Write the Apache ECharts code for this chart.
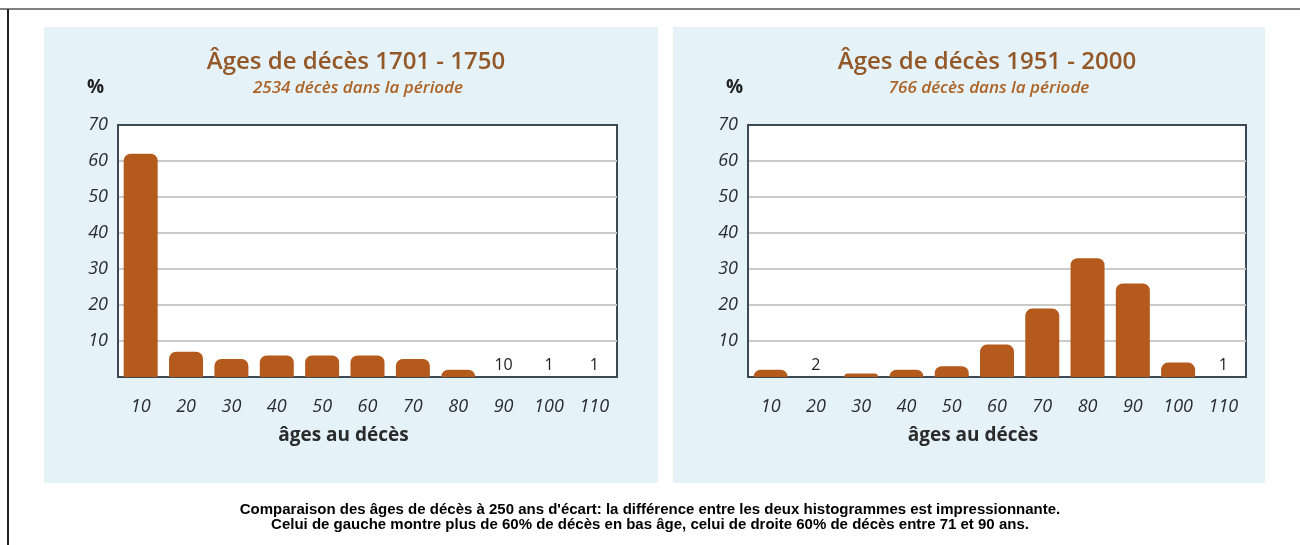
<!DOCTYPE html>
<html>
<head>
<meta charset="utf-8">
<script src="https://cdn.jsdelivr.net/npm/echarts@6/dist/echarts.min.js"></script>
<style>
  html, body { margin: 0; padding: 0; background: #fff; }
  #chart { width: 1300px; height: 545px; }
</style>
</head>
<body>
<div id="chart"></div>
<script>
// tranches d'âge (axe x)
const ageCategories = ['10', '20', '30', '40', '50', '60', '70', '80', '90', '100', '110']

// % de décès par tranche, 1701 - 1750
const pctLeft = [62, 7, 5, 6, 6, 6, 5, 2, 0, 0, 0]
// nombre de décès écrit au-dessus des barres trop petites
const countLabelsLeft = ['', '', '', '', '', '', '', '', '10', '1', '1']

// % de décès par tranche, 1951 - 2000
const pctRight = [2, 0, 1, 2, 3, 9, 19, 33, 26, 4, 0]
const countLabelsRight = ['', '2', '', '', '', '', '', '', '', '', '1']

const titles = ['Âges de décès 1701 - 1750', 'Âges de décès 1951 - 2000']
const subtitles = ['2534 décès dans la période', '766 décès dans la période']
const captionLines = [
  "Comparaison des âges de décès à 250 ans d'écart: la différence entre les deux histogrammes est impressionnante.",
  'Celui de gauche montre plus de 60% de décès en bas âge, celui de droite 60% de décès entre 71 et 90 ans.'
]

const barColor = '#b45a1c'
const numFont = '"Open Sans", Lato, sans-serif'

const chart = echarts.init(document.getElementById('chart'))

function makeXAxis(gridIndex) {
  return {
    type: 'category',
    gridIndex,
    data: ageCategories,
    name: 'âges au décès',
    nameLocation: 'middle',
    nameGap: 49,
    nameTextStyle: {
      fontFamily: numFont, fontWeight: 'bold', fontSize: 19, color: '#2b2b2b',
      padding: [0, 48, 0, 0] // le titre d'axe est décalé vers la gauche
    },
    axisLine: { lineStyle: { color: '#3d4a55', width: 2 } },
    axisTick: { show: false },
    axisLabel: { margin: 21, fontFamily: numFont, fontStyle: 'italic', fontSize: 18, color: '#2a2a35' }
  }
}

function makeYAxis(gridIndex) {
  return {
    type: 'value',
    gridIndex,
    min: 0,
    max: 70,
    interval: 10,
    axisLine: { show: true, lineStyle: { color: '#3d4a55', width: 2 } },
    axisTick: { show: false },
    axisLabel: { showMinLabel: false, margin: 10, fontFamily: numFont, fontStyle: 'italic', fontSize: 18, color: '#2a2a35' },
    splitLine: { showMinLine: false, showMaxLine: false, lineStyle: { color: '#cacaca', width: 2 } }
  }
}

function makeSeries(idx, values, counts) {
  return {
    type: 'bar',
    xAxisIndex: idx,
    yAxisIndex: idx,
    data: values,
    barWidth: 34,
    itemStyle: { color: barColor, borderRadius: [7, 7, 0, 0] },
    label: {
      show: true,
      position: 'top',
      distance: 4,
      fontFamily: numFont,
      fontSize: 16,
      color: '#222',
      formatter: p => counts[p.dataIndex]
    },
    animation: false
  }
}

const titleCenters = [356, 987]
const percentX = [87, 726]
const graphic = [
  // panneaux bleu clair
  { type: 'rect', z: -10, shape: { x: 44, y: 27, width: 614, height: 456 }, style: { fill: '#e5f2f8' } },
  { type: 'rect', z: -10, shape: { x: 673, y: 27, width: 592, height: 456 }, style: { fill: '#e5f2f8' } },
  // cadre
  { type: 'line', z: -5, shape: { x1: 0, y1: 9, x2: 1300, y2: 9 }, style: { stroke: '#808080', lineWidth: 2 } },
  { type: 'line', z: -5, shape: { x1: 8, y1: 9, x2: 8, y2: 545 }, style: { stroke: '#222', lineWidth: 2 } }
]
titles.forEach((t, i) => {
  graphic.push({
    type: 'text', x: titleCenters[i], y: 62,
    style: { text: t, textAlign: 'center', verticalAlign: 'middle', font: '600 24px "Open Sans", sans-serif', fill: '#945828' }
  })
  graphic.push({
    type: 'text', x: titleCenters[i] + 2, y: 88,
    style: { text: subtitles[i], textAlign: 'center', verticalAlign: 'middle', font: 'italic 600 17px "Open Sans", sans-serif', fill: '#ad6326' }
  })
  graphic.push({
    type: 'text', x: percentX[i], y: 88,
    style: { text: '%', textAlign: 'left', verticalAlign: 'middle', font: 'bold 19px "Open Sans", sans-serif', fill: '#222' }
  })
})
captionLines.forEach((line, i) => {
  graphic.push({
    type: 'text', x: 650, y: 510 + i * 15,
    style: { text: line, textAlign: 'center', verticalAlign: 'middle', font: 'bold 15px "Liberation Sans", Arial, sans-serif', fill: '#000' }
  })
})

chart.setOption({
  animation: false,
  grid: [
    { left: 118, right: 683, top: 125, bottom: 168, show: true, backgroundColor: '#fff', borderColor: '#3d4a55', borderWidth: 2 },
    { left: 748, right: 54, top: 125, bottom: 168, show: true, backgroundColor: '#fff', borderColor: '#3d4a55', borderWidth: 2 }
  ],
  xAxis: [makeXAxis(0), makeXAxis(1)],
  yAxis: [makeYAxis(0), makeYAxis(1)],
  series: [
    makeSeries(0, pctLeft, countLabelsLeft),
    makeSeries(1, pctRight, countLabelsRight)
  ],
  graphic
})
</script>
</body>
</html>
